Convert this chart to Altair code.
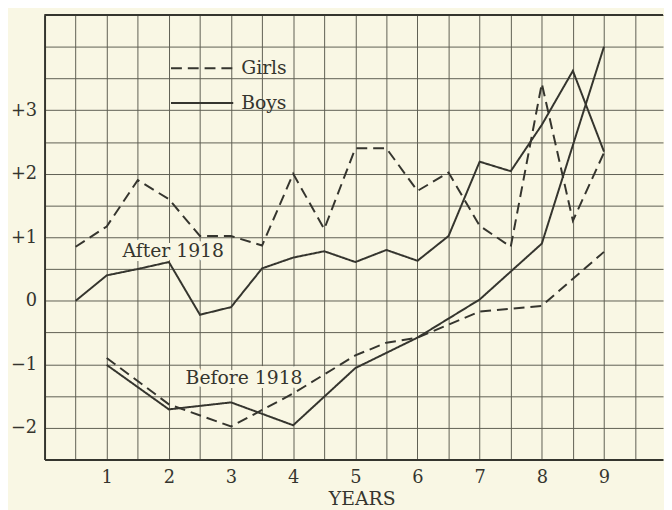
import altair as alt
import pandas as pd

# ---- data ----
girls_after_years = [0.5, 1, 1.5, 2, 2.5, 3, 3.5, 4, 4.5, 5, 5.5, 6, 6.5, 7, 7.5, 8, 8.5, 9]
girls_after = [0.85, 1.17, 1.9, 1.6, 1.02, 1.02, 0.87, 2.0, 1.13, 2.4, 2.4, 1.73, 2.02, 1.18, 0.85, 3.42, 1.26, 2.33]

boys_after_years = [0.5, 1, 1.5, 2, 2.5, 3, 3.5, 4, 4.5, 5, 5.5, 6, 6.5, 7, 7.5, 8, 8.5, 9]
boys_after = [0.0, 0.4, 0.5, 0.61, -0.22, -0.1, 0.51, 0.68, 0.78, 0.61, 0.8, 0.63, 1.02, 2.19, 2.04, 2.77, 3.62, 2.35]

girls_before_years = [1, 2, 3, 4, 5, 5.5, 6, 7, 8, 9]
girls_before = [-0.9, -1.63, -1.98, -1.46, -0.86, -0.66, -0.58, -0.17, -0.08, 0.77]

boys_before_years = [1, 2, 3, 4, 5, 6, 7, 8, 9]
boys_before = [-1.01, -1.71, -1.6, -1.96, -1.06, -0.58, 0.02, 0.9, 4.0]

genders = ["Girls", "Boys"]
x_grid = [0.5, 1, 1.5, 2, 2.5, 3, 3.5, 4, 4.5, 5, 5.5, 6, 6.5, 7, 7.5, 8, 8.5, 9, 9.5]
y_grid = [-2, -1.5, -1, -0.5, 0, 0.5, 1, 1.5, 2, 2.5, 3, 3.5, 4, 4.5]

ann_text = ["After 1918", "Before 1918"]
ann_x = [2.07, 3.21]
ann_y = [0.78, -1.21]

rows = []
for gender, period, xs, ys in [
    ("Girls", "After", girls_after_years, girls_after),
    ("Boys", "After", boys_after_years, boys_after),
    ("Girls", "Before", girls_before_years, girls_before),
    ("Boys", "Before", boys_before_years, boys_before),
]:
    for x, y in zip(xs, ys):
        rows.append({"year": x, "value": y, "gender": gender, "series": gender + " " + period})
df = pd.DataFrame(rows)
ann = pd.DataFrame({"label": ann_text, "x": ann_x, "y": ann_y})

BG = "#f9f7e4"
INK = "#35352e"
GRID = "#5e5e52"
FONT = "DejaVu Serif"

x_scale = alt.Scale(domain=[0, 9.95], nice=False, zero=False)
y_scale = alt.Scale(domain=[-2.5, 4.5], nice=False, zero=False)

x_axis = alt.Axis(values=x_grid, labelExpr="datum.value % 1 == 0 ? '' + datum.value : ''",
                  labelOverlap=False, title="YEARS", titleX=321, titleY=46, titleBaseline="alphabetic",
                  titleFont=FONT, titleFontSize=19, titleFontWeight="normal", titleColor=INK,
                  labelPadding=9, labelFontSize=18)
y_axis = alt.Axis(values=y_grid, labelOverlap=False,
                  labelExpr="datum.value % 1 == 0 && datum.value <= 3 ? (datum.value > 0 ? '+' + datum.value : (datum.value < 0 ? '\u2212' + abs(datum.value) : '0')) : ''",
                  title=None, labelPadding=8, labelFontSize=18)

lines = alt.Chart(df).mark_line(color=INK, strokeWidth=2).encode(
    x=alt.X("year:Q", scale=x_scale, axis=x_axis),
    y=alt.Y("value:Q", scale=y_scale, axis=y_axis),
    strokeDash=alt.StrokeDash("gender:N",
                              scale=alt.Scale(domain=genders, range=[[11, 6], [1, 0]]),
                              legend=alt.Legend(orient="none", legendX=127, legendY=44, title=None,
                                                symbolType="stroke", symbolSize=3969, symbolStrokeWidth=2,
                                                symbolStrokeColor=INK, labelFont=FONT, labelFontSize=19,
                                                labelColor=INK, labelOffset=7, clipHeight=20, rowPadding=15)),
    detail="series:N",
)

top_border = alt.Chart(ann).mark_rule(color=INK, strokeWidth=2).encode(y=alt.value(0))

halo = alt.Chart(ann).mark_text(font=FONT, fontSize=19, fill=BG, stroke=BG, strokeWidth=8,
                                strokeJoin="round").encode(
    x=alt.X("x:Q", scale=x_scale, axis=x_axis), y=alt.Y("y:Q", scale=y_scale, axis=y_axis), text="label:N")
labels = alt.Chart(ann).mark_text(font=FONT, fontSize=19, color=INK).encode(
    x=alt.X("x:Q", scale=x_scale, axis=x_axis), y=alt.Y("y:Q", scale=y_scale, axis=y_axis), text="label:N")

chart = alt.layer(lines, halo, labels, top_border).properties(
    width=626, height=450,
    autosize=alt.AutoSizeParams(type="none"),
    padding={"left": 37, "top": 4, "right": 1, "bottom": 48},
    background=BG,
).configure_view(stroke=None).configure_axis(
    grid=True, gridColor=GRID, gridWidth=1, gridOpacity=1,
    domainColor=INK, domainWidth=2, ticks=False,
    labelFont=FONT, labelColor=INK,
)

chart.save("out.html", embed_options={"renderer": "svg", "actions": False})
